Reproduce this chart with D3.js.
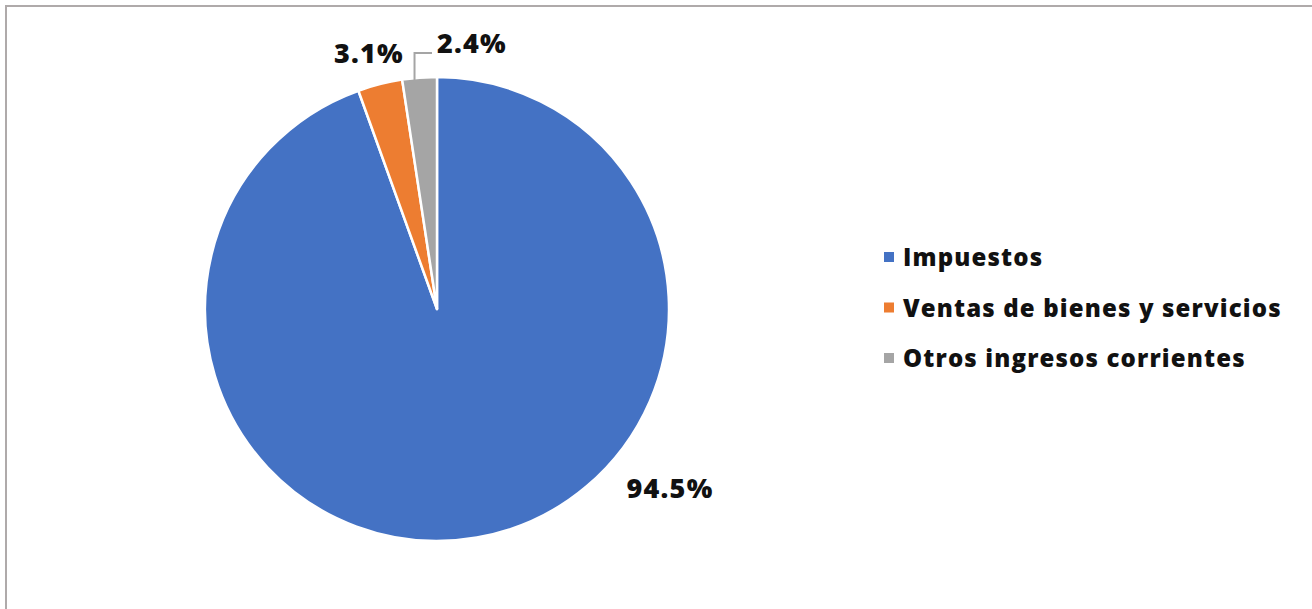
<!DOCTYPE html>
<html>
<head>
<meta charset="utf-8">
<script src="https://cdn.jsdelivr.net/npm/d3@7"></script>
<style>
  body { margin: 0; background: #fff; }
  svg { display: block; font-family: "Open Sans", "Noto Sans", sans-serif; }
</style>
</head>
<body>
<div id="chart"></div>
<script>
// data
const categories = ["Impuestos", "Ventas de bienes y servicios", "Otros ingresos corrientes"];
const values = [94.5, 3.1, 2.4];
const colors = ["#4472C4", "#ED7D31", "#A5A5A5"];

const width = 1312, height = 609;
const cx = 437, cy = 309, radius = 232;

const svg = d3.select("#chart").append("svg")
  .attr("width", width)
  .attr("height", height);

// chart frame (runs off the right and bottom edge)
svg.append("rect")
  .attr("x", 6).attr("y", 6)
  .attr("width", 1320).attr("height", 620)
  .attr("fill", "none")
  .attr("stroke", "#AFAAAA")
  .attr("stroke-width", 2);

const pie = d3.pie().sort(null).value(d => d)(values);
const arc = d3.arc().innerRadius(0).outerRadius(radius);

const g = svg.append("g").attr("transform", `translate(${cx},${cy})`);

g.selectAll("path.slice")
  .data(pie)
  .enter()
  .append("path")
  .attr("class", "slice")
  .attr("d", arc)
  .attr("fill", (d, i) => colors[i])
  .attr("stroke", "#fff")
  .attr("stroke-width", 2.5)
  .attr("stroke-linejoin", "round");

// data labels, offsets relative to centre (best-fit like placement)
const labelPos = [
  [233, 189],
  [-68, -246],
  [35, -256]
];

g.selectAll("text.lbl")
  .data(pie)
  .enter()
  .append("text")
  .attr("class", "lbl")
  .attr("x", (d, i) => labelPos[i][0])
  .attr("y", (d, i) => labelPos[i][1])
  .attr("text-anchor", "middle")
  .attr("font-size", "27px")
  .attr("font-weight", 800)
  .attr("letter-spacing", "1.2px")
  .attr("fill", "#111")
  .text(d => d3.format(".1f")(d.data) + "%");

// leader line for the small grey slice
const gray = pie[2];
const edge = d3.arc().innerRadius(radius).outerRadius(radius).centroid(gray);
g.append("path")
  .attr("d", `M${edge[0] - 5},${edge[1] + 3} V${-256} H${-5}`)
  .attr("fill", "none")
  .attr("stroke", "#A5A5A5")
  .attr("stroke-width", 2);

// legend
const legend = svg.append("g").attr("transform", "translate(884,257)");
const item = legend.selectAll("g")
  .data(categories)
  .enter()
  .append("g")
  .attr("transform", (d, i) => `translate(0,${i * 50.5})`);

item.append("rect")
  .attr("x", 0).attr("y", -5)
  .attr("width", 10).attr("height", 10)
  .attr("fill", (d, i) => colors[i]);

item.append("text")
  .attr("x", 19).attr("y", 9)
  .attr("font-size", "24px")
  .attr("font-weight", 800)
  .attr("letter-spacing", "1.15px")
  .attr("fill", "#111")
  .text(d => d);
</script>
</body>
</html>
